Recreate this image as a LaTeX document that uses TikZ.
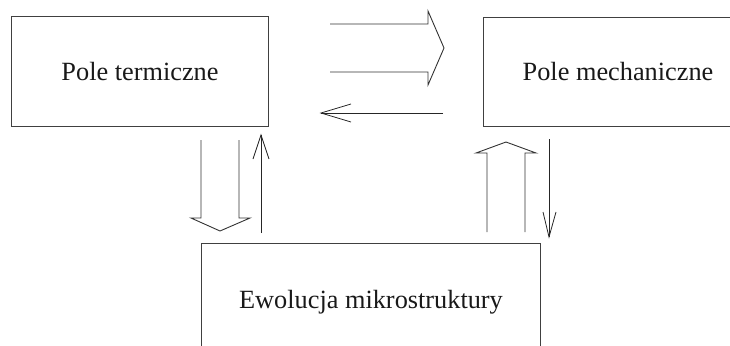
\documentclass[tikz,border=0pt]{standalone}
\usepackage{fontspec}
\setmainfont{Liberation Serif}
\usetikzlibrary{arrows.meta}
\begin{document}
\begin{tikzpicture}[x=1pt,y=-1pt,
  boxtext/.style={inner sep=0pt,font=\fontsize{26.3}{31}\selectfont,text=black!90},
  frame/.style={draw=black!75,line width=0.9pt},
  fat/.style={draw=black!80,line width=0.9pt,line join=miter},
  thinarrow/.style={draw=black!85,line width=0.8pt}]
\useasboundingbox (0,0) rectangle (730,345);
% boxes
\node[boxtext,minimum width=256pt,minimum height=109pt] (pt) at (140,71.5) {Pole termiczne};
\node[boxtext,minimum width=268pt,minimum height=108pt] (pm) at (618,72) {Pole mechaniczne};
\node[boxtext,minimum width=338pt,minimum height=116pt] (ew) at (371,302) {Ewolucja mikrostruktury};
\draw[frame] (pt.north west) rectangle (pt.south east);
\draw[frame] (pm.north east) -- (pm.north west) -- (pm.south west) -- (pm.south east);
\draw[frame] (ew.south west) -- (ew.north west) -- (ew.north east) -- (ew.south east);
% big arrow right
\draw[fat] (330,24) -- (428,24) -- (428,11) -- (444,48) -- (428,85) -- (428,72) -- (330,72);
% thin arrow left
\draw[thinarrow] (443,113) -- (321,113);
\draw[thinarrow] (351,104) -- (321,113) -- (351,122);
% big arrow down (left)
\draw[fat] (201,140) -- (201,218) -- (191,218) -- (220,231) -- (250,218) -- (239,218) -- (239,140);
% thin arrow up (left)
\draw[thinarrow] (261,233) -- (261,135);
\draw[thinarrow] (253,159) -- (261,135) -- (269,159);
% big arrow up (right)
\draw[fat] (487,232) -- (487,153) -- (476,153) -- (506,142) -- (536,153) -- (525,153) -- (525,232);
% thin arrow down (right)
\draw[thinarrow] (549,139) -- (549,237);
\draw[thinarrow] (543,212) -- (549,237) -- (556,212);
\end{tikzpicture}
\end{document}
